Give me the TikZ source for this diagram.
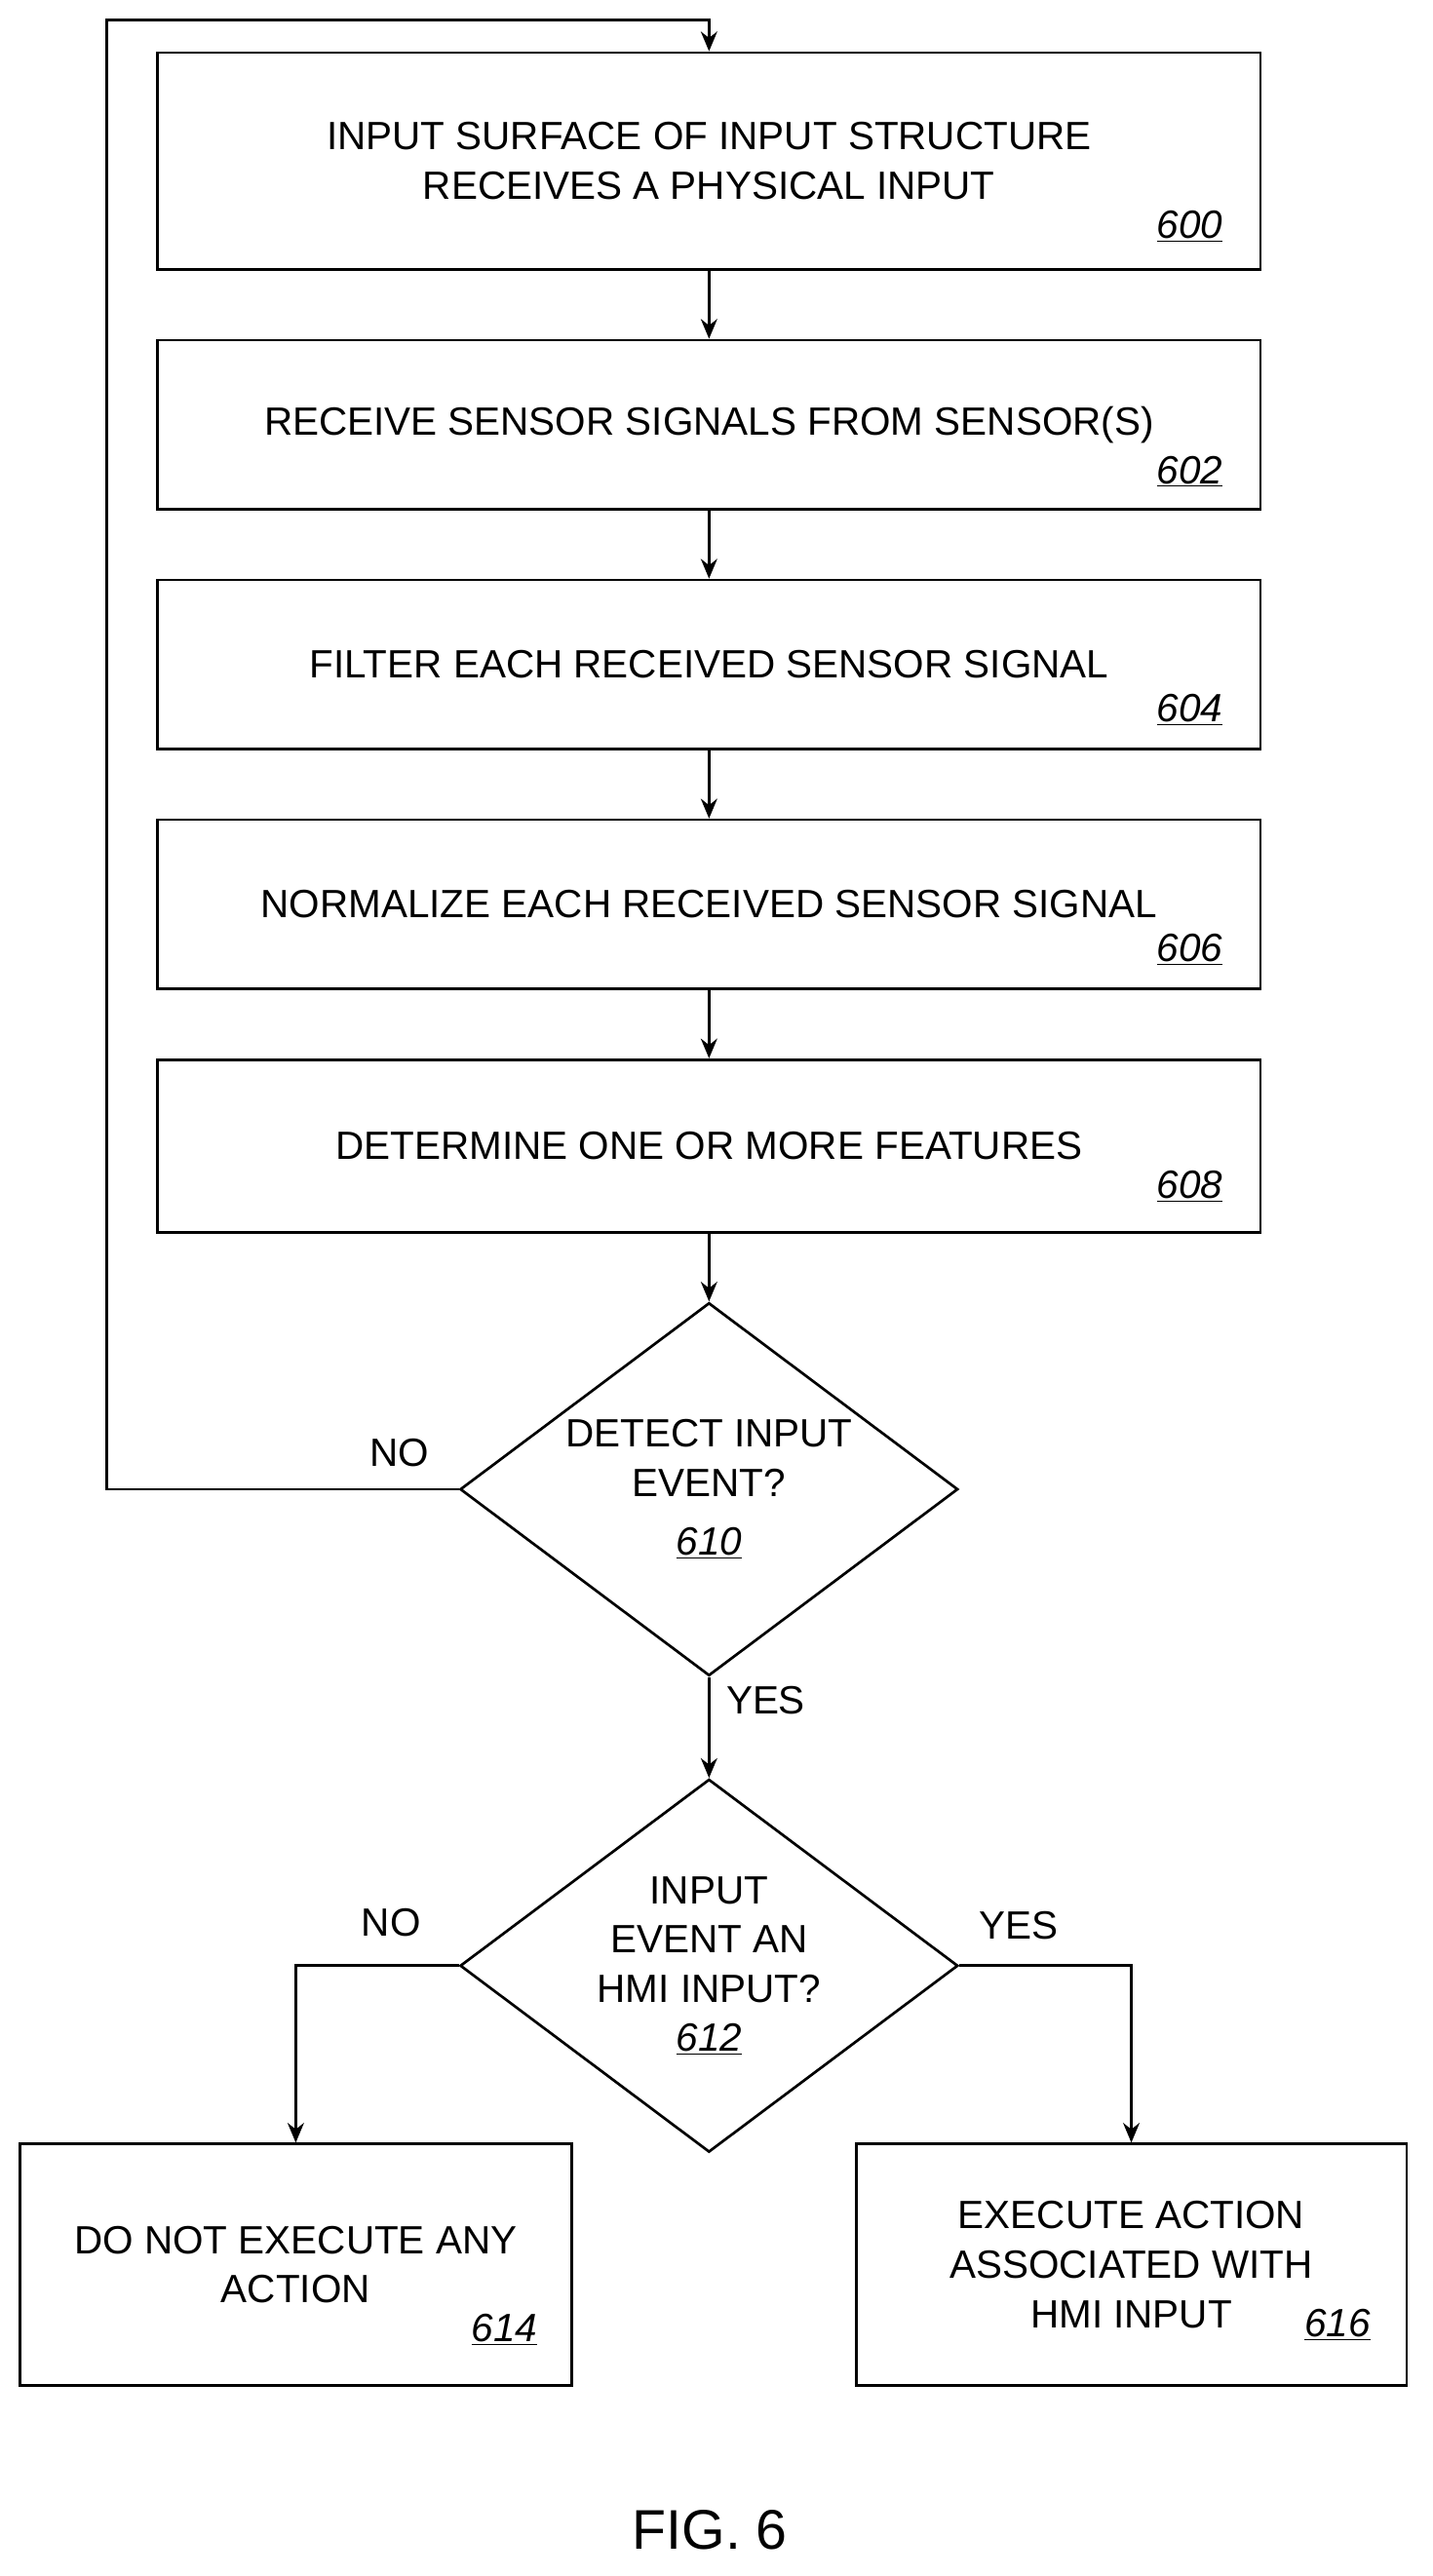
\documentclass[tikz,border=0pt]{standalone}
\usepackage{fontspec}
\setmainfont{Liberation Sans}
\usetikzlibrary{shapes.geometric,arrows.meta}
\tikzset{
  procbox/.style={draw,line width=1.6pt,minimum width=671pt,minimum height=103pt,align=center,font=\fontsize{24}{30}\selectfont},
  test/.style={draw,diamond,line width=1.6pt,minimum width=303pt,minimum height=227pt,inner sep=0pt,aspect=1.33,align=center,font=\fontsize{24}{30}\selectfont},
  ref/.style={font=\fontsize{24}{30}\selectfont\itshape},
  lbl/.style={font=\fontsize{24}{30}\selectfont},
  flow/.style={line width=1.6pt,-{Stealth[length=12pt,width=10pt]}}
}
\newcommand{\stepno}[1]{\underline{#1}}
\begin{document}
\begin{tikzpicture}[x=1pt,y=-1pt]
  \useasboundingbox (0,0) rectangle (872,1568);
  % process steps
  \node[procbox,minimum height=132pt] (s600) at (431.5,98) {INPUT SURFACE OF INPUT STRUCTURE\\RECEIVES A PHYSICAL INPUT};
  \node[procbox] (s602) at (431.5,258.5) {RECEIVE SENSOR SIGNALS FROM SENSOR(S)};
  \node[procbox] (s604) at (431.5,404.5) {FILTER EACH RECEIVED SENSOR SIGNAL};
  \node[procbox] (s606) at (431.5,550.5) {NORMALIZE EACH RECEIVED SENSOR SIGNAL};
  \node[procbox,minimum height=105pt] (s608) at (431.5,697.5) {DETERMINE ONE OR MORE FEATURES};
  \node[test] (d610) at (431.5,906.5) {DETECT INPUT\\EVENT?\\[6pt]\textit{\stepno{610}}};
  \node[test] (d612) at (431.5,1196.5) {INPUT\\EVENT AN\\HMI INPUT?\\\textit{\stepno{612}}};
  \node[procbox,minimum width=336pt,minimum height=147pt] (s614) at (180,1378.5) {DO NOT EXECUTE ANY\\ACTION};
  \node[procbox,minimum width=335pt,minimum height=147pt] (s616) at (688.5,1378.5) {EXECUTE ACTION\\ASSOCIATED WITH\\HMI INPUT};
  % reference numbers
  \node[ref] (n600) at (724,138) {\stepno{600}};
  \node[ref] (n602) at (724,287) {\stepno{602}};
  \node[ref] (n604) at (724,432) {\stepno{604}};
  \node[ref] (n606) at (724,578) {\stepno{606}};
  \node[ref] (n608) at (724,722) {\stepno{608}};
  \node[ref] (n614) at (307,1418) {\stepno{614}};
  \node[ref] (n616) at (814,1415) {\stepno{616}};
  % connectors
  \draw[flow] (s600) -- (s602);
  \draw[flow] (s602) -- (s604);
  \draw[flow] (s604) -- (s606);
  \draw[flow] (s606) -- (s608);
  \draw[flow] (s608) -- (d610);
  \draw[flow] (d610) -- (d612);
  \coordinate (loopA) at (65,906.5);
  \coordinate (loopB) at (65,12);
  \coordinate (loopC) at (431.5,12);
  \draw[flow] (d610.west) -- (loopA) -- (loopB) -- (loopC) -- (s600.north);
  \draw[flow] (d612.west) -| (s614.north);
  \draw[flow] (d612.east) -| (s616.north);
  % labels
  \node[lbl] (lno1) at (243,884) {NO};
  \node[lbl] (lyes1) at (466,1035) {YES};
  \node[lbl] (lno2) at (238,1170) {NO};
  \node[lbl] (lyes2) at (620,1172) {YES};
  \node[font=\fontsize{34}{40}\selectfont] (fig) at (432,1540) {FIG. 6};
\end{tikzpicture}
\end{document}
